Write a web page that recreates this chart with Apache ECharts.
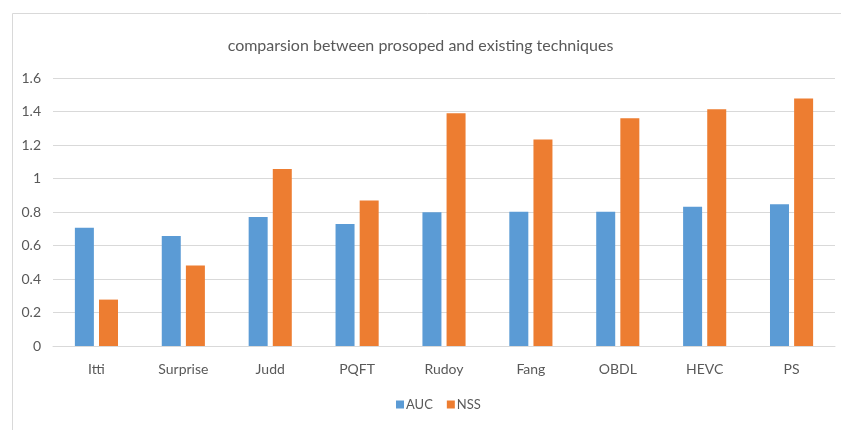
<!DOCTYPE html>
<html>
<head>
<meta charset="utf-8">
<script src="https://cdn.jsdelivr.net/npm/echarts@6/dist/echarts.min.js"></script>
<style>
  html, body { margin: 0; padding: 0; background: #fff; }
  #chart { width: 841px; height: 430px; }
</style>
</head>
<body>
<div id="chart"></div>
<script>
// Saliency techniques compared on AUC and NSS
const categories = ['Itti', 'Surprise', 'Judd', 'PQFT', 'Rudoy', 'Fang', 'OBDL', 'HEVC', 'PS'];
const aucValues = [0.706, 0.656, 0.770, 0.728, 0.798, 0.802, 0.802, 0.832, 0.846];
const nssValues = [0.277, 0.481, 1.057, 0.868, 1.389, 1.233, 1.359, 1.414, 1.478];
const yTicks = [0, 0.2, 0.4, 0.6, 0.8, 1, 1.2, 1.4, 1.6];

const textColor = '#595959';
const fontFamily = 'Lato, "Open Sans", sans-serif';

const chart = echarts.init(document.getElementById('chart'), null, { renderer: 'canvas' });
chart.setOption({
  backgroundColor: '#ffffff',
  animation: false,
  textStyle: { fontFamily: fontFamily },
  graphic: [{
    type: 'rect',
    shape: { x: 12.5, y: 13.5, width: 900, height: 500 },
    style: { fill: 'none', stroke: '#d9d9d9', lineWidth: 1 },
    silent: true,
    z: -10
  }],
  title: {
    text: 'comparsion between prosoped and existing techniques',
    left: 'center',
    top: 33,
    textStyle: { color: textColor, fontSize: 16, fontWeight: 'normal', fontFamily: fontFamily }
  },
  legend: {
    data: ['AUC', 'NSS'],
    bottom: 14,
    left: 391,
    itemWidth: 8,
    itemHeight: 8,
    itemGap: 14,
    icon: 'rect',
    textStyle: { color: textColor, fontSize: 13, fontFamily: fontFamily, padding: [0, 0, 0, -3] }
  },
  grid: { left: 53, right: 6, top: 78, bottom: 84, containLabel: false },
  xAxis: {
    type: 'category',
    data: categories,
    axisLine: { show: true, lineStyle: { color: '#d9d9d9', width: 1 } },
    axisTick: { show: false },
    axisLabel: { color: textColor, fontSize: 14, margin: 16, fontFamily: fontFamily }
  },
  yAxis: {
    type: 'value',
    min: yTicks[0],
    max: yTicks[yTicks.length - 1],
    interval: 0.2,
    axisLine: { show: false },
    axisTick: { show: false },
    splitLine: { lineStyle: { color: '#d9d9d9', width: 1 } },
    axisLabel: {
      color: textColor, fontSize: 14, margin: 12, fontFamily: fontFamily,
      formatter: v => String(Math.round(v * 10) / 10)
    }
  },
  series: [
    {
      name: 'AUC',
      type: 'bar',
      data: aucValues,
      barWidth: 19,
      barGap: '27%',
      itemStyle: { color: '#5b9bd5' }
    },
    {
      name: 'NSS',
      type: 'bar',
      data: nssValues,
      barWidth: 19,
      barGap: '27%',
      itemStyle: { color: '#ed7d31' }
    }
  ]
});
</script>
</body>
</html>
